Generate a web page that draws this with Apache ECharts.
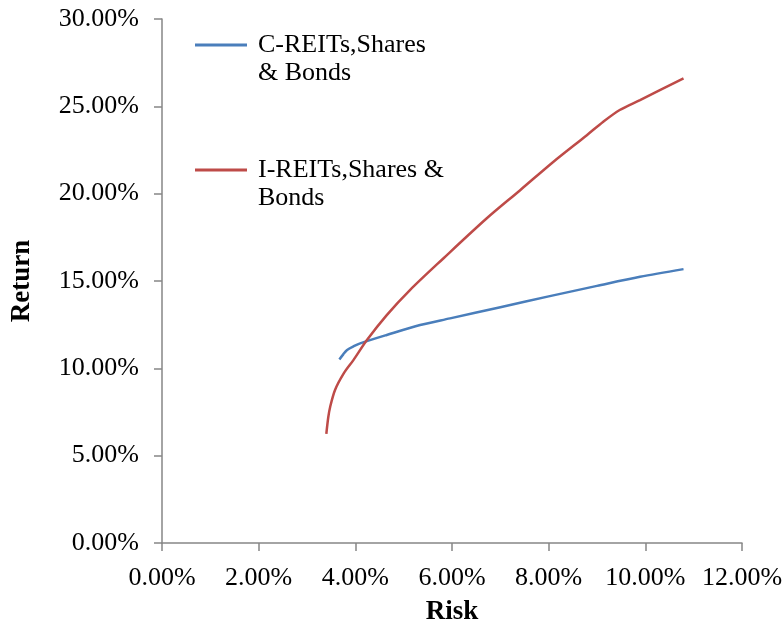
<!DOCTYPE html>
<html>
<head>
<meta charset="utf-8">
<script src="https://cdn.jsdelivr.net/npm/echarts@6/dist/echarts.min.js"></script>
<style>
  html, body { margin: 0; padding: 0; background: #fff; }
  #chart { width: 782px; height: 627px; }
</style>
</head>
<body>
<div id="chart"></div>
<script>
// risk / return pairs in percent
const seriesNames = ['C-REITs,Shares & Bonds', 'I-REITs,Shares & Bonds']
const legendLabels = ['C-REITs,Shares\n& Bonds', 'I-REITs,Shares &\nBonds']

const cReitsRisk = [3.67, 3.75, 3.83, 3.98, 4.10, 4.65, 5.34, 5.96, 7.00, 8.00, 9.00, 9.89, 10.79]
const cReitsReturn = [10.51, 10.80, 11.05, 11.28, 11.43, 11.91, 12.48, 12.86, 13.50, 14.12, 14.72, 15.24, 15.68]

const iReitsRisk = [3.40, 3.44, 3.48, 3.58, 3.76, 3.96, 4.24, 4.65, 5.13, 5.82, 6.72, 7.41, 8.10, 8.79, 9.13, 9.47, 9.89, 10.79]
const iReitsReturn = [6.25, 7.20, 7.80, 8.76, 9.71, 10.47, 11.62, 13.05, 14.48, 16.29, 18.59, 20.20, 21.83, 23.35, 24.12, 24.79, 25.36, 26.60]

const xTicks = { min: 0, max: 12, interval: 2 }
const yTicks = { min: 0, max: 30, interval: 5 }

const axisGray = '#868686'
const font = '"Liberation Serif", "Times New Roman", serif'

const pairs = (xs, ys) => xs.map((x, i) => [x, ys[i]])

const chart = echarts.init(document.getElementById('chart'))

chart.setOption({
  animation: false,
  textStyle: { fontFamily: font, color: '#000' },
  grid: { left: 162, right: 40, top: 19, bottom: 84, containLabel: false, outerBoundsMode: 'none' },
  legend: {
    orient: 'vertical',
    left: 195,
    top: 0,
    padding: 0,
    itemGap: 35,
    itemWidth: 52,
    itemHeight: 3,
    icon: 'rect',
    data: seriesNames,
    formatter: (name) => '\n' + legendLabels[seriesNames.indexOf(name)],
    textStyle: {
      fontFamily: font,
      fontSize: 26,
      lineHeight: 28,
      color: '#000',
      padding: [6, 0, 0, 6],
    },
  },
  xAxis: {
    type: 'value',
    ...xTicks,
    name: 'Risk',
    nameLocation: 'middle',
    nameGap: 56,
    nameTextStyle: { fontFamily: font, fontSize: 27, fontWeight: 'bold', color: '#000' },
    axisLine: { show: true, lineStyle: { color: axisGray, width: 1.5 } },
    axisTick: { show: true, length: 8, lineStyle: { color: axisGray, width: 1.5 } },
    axisLabel: {
      margin: 22,
      fontFamily: font,
      fontSize: 26,
      color: '#000',
      formatter: (v) => v.toFixed(2) + '%',
    },
    splitLine: { show: false },
  },
  yAxis: {
    type: 'value',
    ...yTicks,
    name: 'Return',
    nameLocation: 'middle',
    nameGap: 126,
    nameTextStyle: { fontFamily: font, fontSize: 27, fontWeight: 'bold', color: '#000' },
    axisLine: { show: true, lineStyle: { color: axisGray, width: 1.5 } },
    axisTick: { show: true, length: 8, lineStyle: { color: axisGray, width: 1.5 } },
    axisLabel: {
      margin: 23,
      fontFamily: font,
      fontSize: 26,
      color: '#000',
      formatter: (v) => v.toFixed(2) + '%',
    },
    splitLine: { show: false },
  },
  series: [
    {
      name: seriesNames[0],
      type: 'line',
      data: pairs(cReitsRisk, cReitsReturn),
      smooth: 0.3,
      symbol: 'none',
      color: '#4a7ebb',
      lineStyle: { width: 2.5, color: '#4a7ebb' },
    },
    {
      name: seriesNames[1],
      type: 'line',
      data: pairs(iReitsRisk, iReitsReturn),
      smooth: 0.3,
      symbol: 'none',
      color: '#be4b48',
      lineStyle: { width: 2.5, color: '#be4b48' },
    },
  ],
})
</script>
</body>
</html>
